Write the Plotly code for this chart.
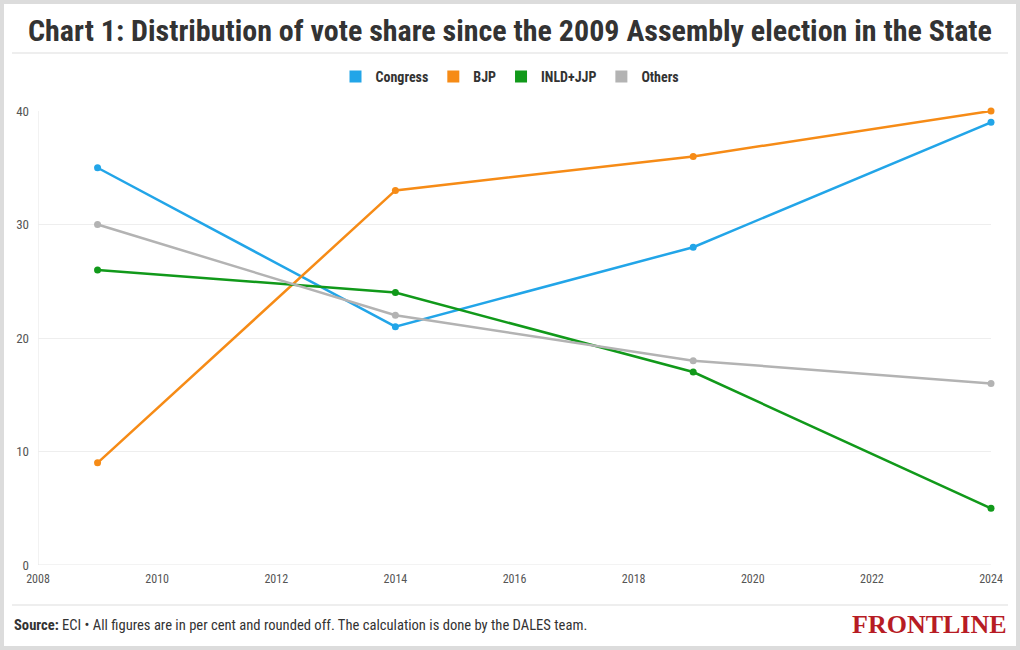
import plotly.graph_objects as go

years = [2009, 2014, 2019, 2024]
congress = [35, 21, 28, 39]
bjp = [9, 33, 36, 40]
inld_jjp = [26, 24, 17, 5]
others = [30, 22, 18, 16]

series = [
    ("Congress", congress, "#22a5e8"),
    ("BJP", bjp, "#f68b16"),
    ("INLD+JJP", inld_jjp, "#11991a"),
    ("Others", others, "#b3b3b3"),
]

W, H = 1020, 650
L, R, T, B = 38, 29, 111, 85
pw, ph = W - L - R, H - T - B

def px(x):
    return (x - L) / pw

def py(y):
    return (H - B - y) / ph

FONT = "Liberation Sans Narrow, Roboto Condensed, Roboto, sans-serif"

fig = go.Figure()
for name, vals, col in series:
    fig.add_trace(go.Scatter(
        x=years, y=vals, name=name, mode="lines+markers",
        line=dict(color=col, width=2.5), marker=dict(color=col, size=7),
        showlegend=False, cliponaxis=False,
    ))
for name, vals, col in series:
    fig.add_trace(go.Scatter(
        x=[None], y=[None], name="<b>" + name + "</b>", mode="markers",
        marker=dict(color=col, size=12, symbol="square"),
        showlegend=True,
    ))

shapes = [
    dict(type="line", xref="paper", yref="paper", x0=px(12), x1=px(1008), y0=py(53), y1=py(53),
         line=dict(color="#dddddd", width=1)),
    dict(type="line", xref="paper", yref="paper", x0=px(12), x1=px(1008), y0=py(605), y1=py(605),
         line=dict(color="#dddddd", width=1)),
    dict(type="rect", xref="paper", yref="paper", x0=px(0), x1=px(W), y0=py(H), y1=py(0),
         line=dict(color="#dcdcdc", width=8), fillcolor="rgba(0,0,0,0)"),
]

annotations = [
    dict(text="<b>Chart 1: Distribution of vote share since the 2009 Assembly election in the State</b>",
         xref="paper", yref="paper", x=px(510), y=py(30), xanchor="center", yanchor="middle",
         showarrow=False, font=dict(family=FONT, size=30, color="#333333")),
    dict(text="<b>Source:</b> ECI • All figures are in per cent and rounded off. The calculation is done by the DALES team.",
         xref="paper", yref="paper", x=px(12), y=py(625), xanchor="left", yanchor="middle",
         showarrow=False, font=dict(family=FONT, size=14.6, color="#333333")),
    dict(text="<b>FRONTLINE</b>",
         xref="paper", yref="paper", x=px(1009), y=py(624), xanchor="right", yanchor="middle",
         showarrow=False, font=dict(family="Liberation Serif, DejaVu Serif, serif", size=26, color="#b71c24")),
]

fig.update_layout(
    width=W, height=H,
    margin=dict(l=L, r=R, t=T, b=B, pad=0),
    paper_bgcolor="white", plot_bgcolor="white",
    font=dict(family=FONT, size=12, color="#555555"),
    showlegend=True,
    legend=dict(orientation="h", xanchor="center", x=px(510), yanchor="middle", y=py(77),
                font=dict(family=FONT, size=14, color="#333333"), itemwidth=30,
                tracegroupgap=0, itemclick=False),
    shapes=shapes, annotations=annotations,
    xaxis=dict(range=[2008, 2024], dtick=2, tick0=2008, showgrid=False, zeroline=False,
               showline=False, ticks="", ticklabelstandoff=5,
               tickfont=dict(size=12, color="#555555")),
    yaxis=dict(range=[0, 40], dtick=10, showgrid=True, gridcolor="#eeeeee", gridwidth=1,
               zeroline=False, showline=False, ticks="", ticklabelstandoff=8,
               tickfont=dict(size=13, color="#555555")),
)
fig.add_shape(type="line", xref="x", yref="paper", x0=2008, x1=2008, y0=0, y1=1,
              line=dict(color="#e6e6e6", width=1), layer="below")
fig.add_shape(type="line", xref="paper", yref="y", x0=0, x1=1, y0=0, y1=0,
              line=dict(color="#e6e6e6", width=1), layer="below")

fig.write_html("out.html")
